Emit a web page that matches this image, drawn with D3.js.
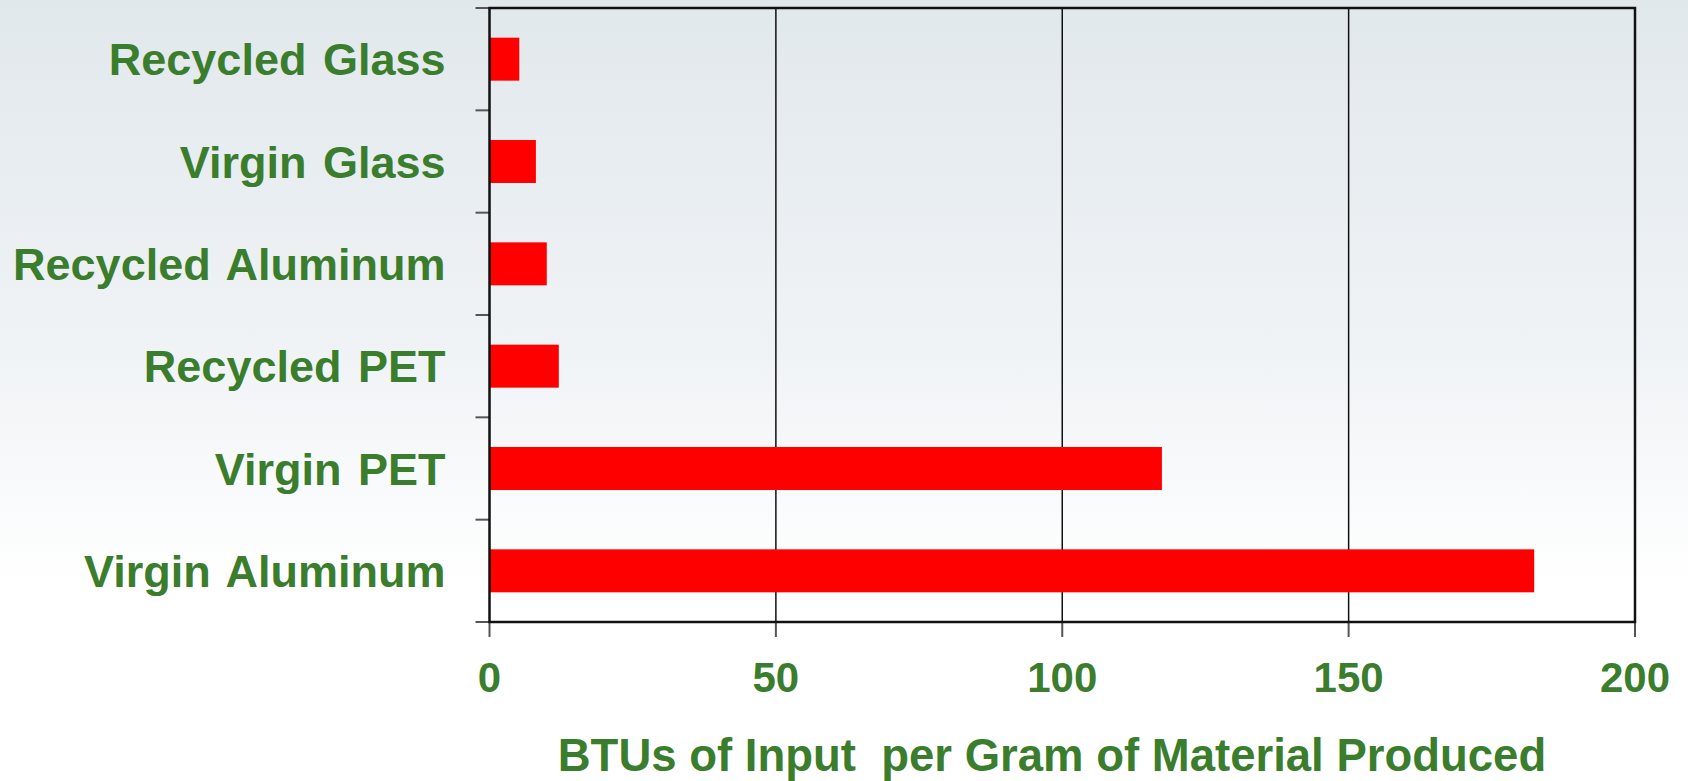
<!DOCTYPE html>
<html><head><meta charset="utf-8">
<script src="https://cdn.jsdelivr.net/npm/d3@7"></script>
<style>
html,body{margin:0;padding:0;}
body{width:1688px;height:781px;overflow:hidden;background:linear-gradient(to bottom,#e1e8ec 0%,#f0f3f6 45%,#ffffff 75%,#ffffff 100%);}
svg{display:block;}
</style></head>
<body>
<svg id="chart" width="1688" height="781"></svg>
<script>
const categories = ["Recycled Glass","Virgin Glass","Recycled Aluminum","Recycled PET","Virgin PET","Virgin Aluminum"];
const values = [5.2, 8.1, 10.0, 12.1, 117.4, 182.4];
const xTicks = [0, 50, 100, 150, 200];
const axisTitle = "BTUs of Input  per Gram of Material Produced";

const green = "#3a7d2c";
const svg = d3.select("#chart");
const m = {left: 489.5, right: 1635, top: 8, bottom: 622};

const x = d3.scaleLinear().domain([0, 200]).range([m.left, m.right]);
const y = d3.scaleBand().domain(categories).range([m.top, m.bottom]).paddingInner(0.58).paddingOuter(0.29);
const yb = d3.scaleBand().domain(categories).range([m.top, m.bottom]);

// gridlines
svg.append("g").selectAll("line").data(xTicks.slice(1, -1)).join("line")
  .attr("x1", d => x(d)).attr("x2", d => x(d))
  .attr("y1", m.top).attr("y2", m.bottom)
  .attr("stroke", "#111").attr("stroke-width", 1.5);

// bars
svg.append("g").selectAll("rect").data(categories).join("rect")
  .attr("x", x(0))
  .attr("y", d => y(d))
  .attr("width", (d, i) => x(values[i]) - x(0))
  .attr("height", y.bandwidth())
  .attr("fill", "#ff0000");

// left tick marks (category boundaries)
const bounds = categories.map(c => yb(c)).concat([m.bottom]);
svg.append("g").selectAll("line").data(bounds).join("line")
  .attr("x1", m.left - 14).attr("x2", m.left)
  .attr("y1", d => d).attr("y2", d => d)
  .attr("stroke", "#555").attr("stroke-width", 2);

// bottom tick marks
svg.append("g").selectAll("line").data(xTicks).join("line")
  .attr("x1", d => x(d)).attr("x2", d => x(d))
  .attr("y1", m.bottom).attr("y2", m.bottom + 15)
  .attr("stroke", "#555").attr("stroke-width", 2);

// frame
svg.append("rect")
  .attr("x", m.left).attr("y", m.top)
  .attr("width", m.right - m.left).attr("height", m.bottom - m.top)
  .attr("fill", "none").attr("stroke", "#111").attr("stroke-width", 2.5);

// category labels
svg.append("g").selectAll("text").data(categories).join("text")
  .attr("x", m.left - 44)
  .attr("y", d => yb(d) + yb.bandwidth() / 2 + 16)
  .attr("text-anchor", "end")
  .attr("font-family", "'Liberation Sans', Arial, sans-serif")
  .attr("font-weight", "bold")
  .attr("font-size", 45)
  .attr("word-spacing", 4)
  .attr("fill", green)
  .text(d => d);

// x tick labels
svg.append("g").selectAll("text").data(xTicks).join("text")
  .attr("x", d => x(d))
  .attr("y", 692)
  .attr("text-anchor", "middle")
  .attr("font-family", "'Liberation Sans', Arial, sans-serif")
  .attr("font-weight", "bold")
  .attr("font-size", 42)
  .attr("fill", green)
  .text(d => d);

// axis title
svg.append("text")
  .attr("x", 1052)
  .attr("y", 771)
  .attr("text-anchor", "middle")
  .attr("font-family", "'Liberation Sans', Arial, sans-serif")
  .attr("font-weight", "bold")
  .attr("font-size", 45.5)
  .attr("fill", green)
  .style("white-space", "pre")
  .text(axisTitle);
</script>
</body></html>
